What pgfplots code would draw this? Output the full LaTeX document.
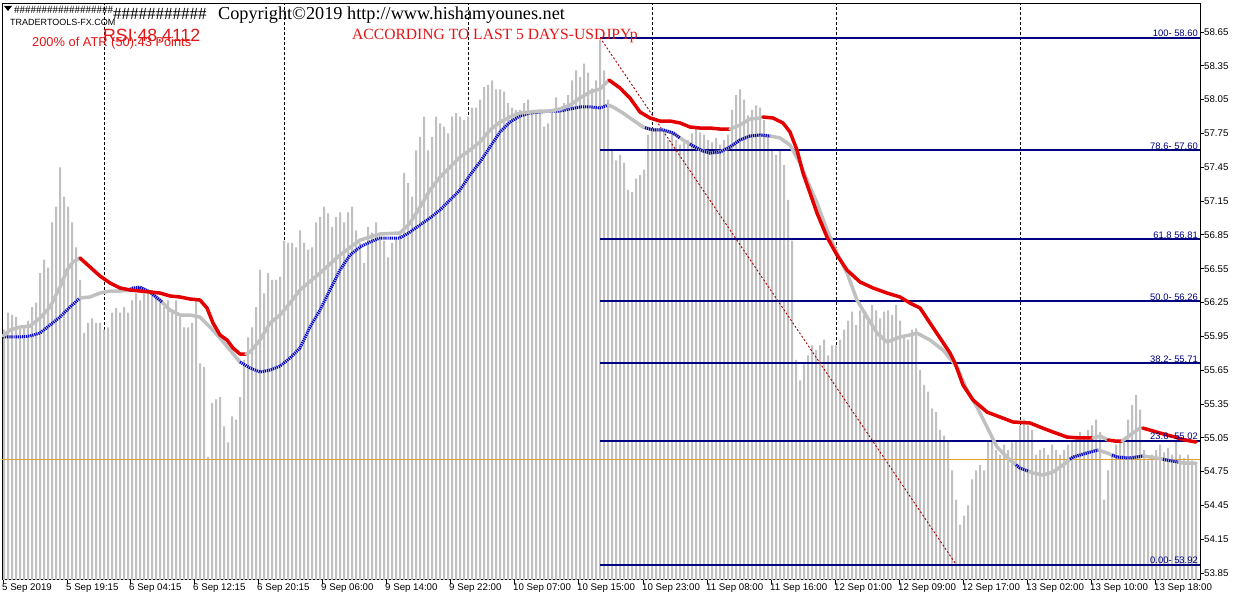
\documentclass[border=0pt]{standalone}
\usepackage{fontspec}
\setmainfont{Liberation Sans}
\newfontfamily\tnr{Liberation Serif}
\usepackage{pgfplots}
\pgfplotsset{compat=1.18}
\usepackage{pgfplotstable}
\definecolor{barg}{RGB}{192,192,192}
\definecolor{mag}{RGB}{192,192,192}
\definecolor{mar}{RGB}{228,0,0}
\definecolor{mab}{RGB}{0,0,205}
\definecolor{navyf}{RGB}{0,0,128}
\definecolor{trend}{RGB}{170,0,0}
\definecolor{curp}{RGB}{226,160,50}
\definecolor{txtred}{RGB}{228,20,20}
\pgfplotsset{
 magray/.style={no markers, draw=mag, line width=3.5bp, line join=round, line cap=round},
 mared/.style={no markers, draw=mar, line width=3.5bp, line join=round, line cap=round},
 mablue/.style={no markers, draw=mab, line width=3bp, dash pattern=on 1.2bp off 0.9bp},
 sep/.style={no markers, black, line width=1bp, dash pattern=on 3bp off 2bp},
 fib/.style={no markers, draw=navyf, line width=2bp},
}
\pgfplotstableread{
x y
4 56.01
8 56.16
12 56.14
16 56.12
20 56.03
24 56.03
28 56.09
32 56.21
36 56.25
40 56.51
44 56.63
48 56.56
52 56.96
56 57.10
60 57.45
64 57.19
68 57.10
72 56.96
76 56.74
80 56.45
84 55.98
88 56.07
92 56.11
96 56.07
100 56.07
104 56.01
108 56.03
112 56.16
116 56.20
120 56.16
124 56.21
128 56.16
132 56.27
136 56.33
140 56.27
144 56.33
148 56.33
152 56.36
156 56.30
160 56.25
164 56.21
168 56.27
172 56.16
176 56.27
180 56.12
184 56.03
188 56.03
192 56.07
196 56.27
200 55.71
204 55.68
208 54.88
212 55.36
216 55.39
220 55.41
224 55.15
228 55.01
232 55.24
236 55.21
240 55.41
244 55.74
248 55.94
252 56.03
256 56.21
260 56.54
264 56.33
268 56.51
272 56.45
276 56.45
280 56.48
284 56.80
288 56.78
292 56.78
296 56.74
300 56.89
304 56.78
308 56.72
312 56.74
316 56.96
320 57.01
324 57.10
328 57.04
332 56.92
336 57.01
340 57.05
344 56.96
348 57.05
352 57.10
356 56.89
360 56.78
364 56.60
368 56.92
372 56.87
376 56.96
380 56.83
384 56.80
388 56.65
392 56.78
396 56.83
400 56.87
404 57.40
408 57.31
412 57.19
416 57.60
420 57.72
424 57.90
428 57.60
432 57.72
436 57.90
440 57.84
444 57.81
448 57.75
452 57.90
456 57.93
460 57.90
464 57.87
468 57.90
472 57.98
476 57.98
480 58.05
484 58.16
488 58.18
492 58.22
496 58.14
500 58.14
504 58.12
508 58.02
512 57.98
516 57.96
520 57.96
524 58.02
528 58.05
532 57.96
536 57.93
540 57.96
544 57.81
548 57.84
552 57.93
556 58.07
560 57.98
564 58.02
568 58.09
572 58.22
576 58.31
580 58.25
584 58.37
588 58.29
592 58.15
596 58.22
600 58.58
604 58.31
608 58.05
612 57.60
616 57.51
620 57.56
624 57.49
628 57.25
632 57.23
636 57.35
640 57.38
644 57.43
648 57.74
652 57.78
656 57.78
660 57.80
664 57.76
668 57.69
672 57.74
676 57.69
680 57.65
684 57.67
688 57.69
692 57.75
696 57.80
700 57.76
704 57.74
708 57.69
712 57.67
716 57.71
720 57.65
724 57.69
728 57.74
732 57.96
736 58.09
740 58.14
744 58.05
748 57.91
752 57.96
756 58.00
760 57.98
764 57.87
768 57.74
772 57.60
776 57.56
780 57.60
784 57.47
788 57.16
792 56.80
796 55.74
800 55.56
804 55.70
808 55.78
812 55.87
816 55.83
820 55.87
824 55.92
828 55.78
832 55.87
836 55.87
840 55.92
844 56.01
848 56.09
852 56.17
856 56.05
860 56.18
864 56.14
868 56.09
872 56.23
876 56.18
880 56.11
884 56.17
888 56.18
892 56.14
896 56.23
900 56.09
904 55.96
908 55.92
912 56.01
916 56.02
920 55.65
924 55.52
928 55.46
932 55.31
936 55.28
940 55.12
944 55.07
948 55.03
952 54.76
956 54.50
960 54.28
964 54.36
968 54.45
972 54.68
976 54.76
980 54.81
984 54.76
988 55.03
992 55.05
996 54.94
1000 54.90
1004 54.99
1008 54.94
1012 55.01
1016 55.03
1020 55.16
1024 55.21
1028 55.16
1032 55.12
1036 54.90
1040 54.94
1044 54.96
1048 54.90
1052 54.99
1056 54.94
1060 54.90
1064 54.94
1068 54.99
1072 55.03
1076 55.07
1080 55.10
1084 55.07
1088 55.12
1092 55.16
1096 55.21
1100 55.10
1104 54.50
1108 54.76
1112 54.90
1116 54.99
1120 55.03
1124 55.05
1128 55.21
1132 55.34
1136 55.43
1140 55.30
1144 54.94
1148 54.85
1152 54.90
1156 54.94
1160 54.99
1164 54.92
1168 54.96
1172 54.90
1176 55.03
1180 54.90
1184 54.87
1188 54.90
1192 54.85
1196 54.83
}\bars
\begin{document}
\begin{tikzpicture}
\useasboundingbox (-2bp,-20bp) rectangle (1238bp,580bp);
\begin{axis}[
 at={(0,0)}, anchor=south west,
 width=1198bp, height=576bp, scale only axis,
 xmin=2, xmax=1200, ymin=53.788, ymax=58.8985,
 axis line style={black, line width=1bp},
 xtick={3,67,130,194,258,322,386,450,514,578,643,707,771,835,899,963,1027,1091,1155},
 xticklabels={5 Sep 2019,5 Sep 19:15,6 Sep 04:15,6 Sep 12:15,6 Sep 20:15,9 Sep 06:00,9 Sep 14:00,9 Sep 22:00,10 Sep 07:00,10 Sep 15:00,10 Sep 23:00,11 Sep 08:00,11 Sep 16:00,12 Sep 01:00,12 Sep 09:00,12 Sep 17:00,13 Sep 02:00,13 Sep 10:00,13 Sep 18:00},
 ytick={53.85,54.15,54.45,54.75,55.05,55.35,55.65,55.95,56.25,56.55,56.85,57.15,57.45,57.75,58.05,58.35,58.65},
 yticklabels={53.85,54.15,54.45,54.75,55.05,55.35,55.65,55.95,56.25,56.55,56.85,57.15,57.45,57.75,58.05,58.35,58.65},
 xtick pos=left, ytick pos=right, yticklabel pos=right,
 tick align=outside, major tick length=4bp,
 tick style={black, line width=0.8bp},
 ticklabel style={font=\fontsize{9.7bp}{10bp}\selectfont, inner sep=0pt},
 xticklabel style={anchor=north west, xshift=-1bp},
 yticklabel style={anchor=west},
]
% day separators
\addplot[sep] coordinates {(104,53.7) (104,59)};
\addplot[sep] coordinates {(284,53.7) (284,59)};
\addplot[sep] coordinates {(468,53.7) (468,59)};
\addplot[sep] coordinates {(652,53.7) (652,59)};
\addplot[sep] coordinates {(836,53.7) (836,59)};
\addplot[sep] coordinates {(1020,53.7) (1020,59)};
% price bars
\addplot[ybar, bar width=2bp, bar shift=0pt, fill=barg, draw=none] table {\bars};
% current price
\addplot[no markers, draw=curp, line width=1bp] coordinates {(2,54.86) (1200,54.86)};
% fibonacci levels
\addplot[fib] coordinates {(600,58.60) (1200,58.60)};
\addplot[fib] coordinates {(600,57.60) (1200,57.60)};
\addplot[fib] coordinates {(600,56.81) (1200,56.81)};
\addplot[fib] coordinates {(600,56.26) (1200,56.26)};
\addplot[fib] coordinates {(600,55.71) (1200,55.71)};
\addplot[fib] coordinates {(600,55.02) (1200,55.02)};
\addplot[fib] coordinates {(600,53.92) (1200,53.92)};
% trend line
\addplot[no markers, draw=trend, line width=0.9bp, dash pattern=on 2bp off 2bp] coordinates {(600,58.60) (955,53.94)};
% lower line
\addplot[mablue] coordinates {(3,55.944) (10,55.944) (20,55.944) (30,55.953) (40,55.979) (50,56.050) (60,56.121) (70,56.210) (80,56.290)};
\addplot[magray] coordinates {(80,56.290) (90,56.299) (100,56.334) (110,56.352) (120,56.352) (130,56.361) (140,56.379) (150,56.343) (160,56.272) (170,56.183) (180,56.139) (190,56.139) (200,56.121) (210,56.032) (220,55.935) (230,55.828) (240,55.722)};
\addplot[mablue] coordinates {(128,56.361) (133,56.379) (140,56.387) (150,56.343) (162,56.254)};
\addplot[mablue] coordinates {(240,55.722) (250,55.669) (260,55.633) (270,55.651) (280,55.686) (290,55.757) (300,55.846) (310,56.032) (320,56.183) (330,56.361) (340,56.538) (350,56.671) (360,56.742) (370,56.787) (380,56.822) (390,56.822) (400,56.822) (410,56.875) (420,56.938) (430,57.000) (440,57.071) (450,57.159) (460,57.248) (470,57.381) (480,57.497) (490,57.630) (500,57.763) (510,57.851) (520,57.905) (530,57.931) (540,57.940) (550,57.949) (560,57.949) (570,57.967) (580,57.985) (590,57.985) (600,57.976) (608,58.002)};
\addplot[magray] coordinates {(608,58.002) (613,57.985) (623,57.931) (633,57.869) (643,57.807) (653,57.781) (663,57.781) (673,57.754) (683,57.692) (693,57.639) (703,57.594) (710,57.576) (720,57.585) (730,57.630) (740,57.692) (750,57.727) (760,57.736) (770,57.727) (780,57.710) (790,57.647) (800,57.488) (807,57.337) (817,57.133) (827,56.893) (837,56.689) (847,56.512) (857,56.272) (867,56.121) (877,55.979) (887,55.899) (900,55.944) (910,55.962) (917,55.979) (930,55.917) (943,55.828) (957,55.678) (967,55.474) (977,55.323) (987,55.145) (997,54.968) (1010,54.852) (1020,54.781) (1033,54.737) (1043,54.719) (1053,54.746) (1063,54.808) (1073,54.879) (1087,54.915) (1098,54.941) (1107,54.915) (1117,54.879) (1130,54.870) (1143,54.888) (1157,54.870) (1167,54.852) (1183,54.826) (1196,54.826)};
\addplot[mablue] coordinates {(645,57.801) (653,57.781) (663,57.781) (673,57.754) (680,57.710)};
\addplot[mablue] coordinates {(690,57.656) (693,57.639) (703,57.594) (710,57.576) (720,57.585) (730,57.630) (740,57.692) (750,57.727) (760,57.736) (770,57.727)};
\addplot[mablue] coordinates {(1016,54.810) (1020,54.781) (1028,54.755)};
\addplot[mablue] coordinates {(1070,54.860) (1073,54.879) (1087,54.915) (1098,54.941)};
\addplot[mablue] coordinates {(1112,54.897) (1117,54.879) (1130,54.870) (1143,54.888)};
\addplot[mablue] coordinates {(1163,54.860) (1167,54.852) (1178,54.835)};
% upper line
\addplot[magray] coordinates {(3,55.953) (10,56.006) (20,56.032) (30,56.041) (40,56.112) (50,56.210) (60,56.387) (67,56.538) (73,56.609) (80,56.645)};
\addplot[mared] coordinates {(80,56.645) (90,56.565) (100,56.485) (110,56.423) (120,56.379) (130,56.361) (140,56.352) (150,56.343) (160,56.334) (170,56.308) (180,56.299) (190,56.281) (200,56.272) (207,56.201) (213,56.068) (220,55.962) (227,55.917) (233,55.846) (240,55.793) (246,55.793)};
\addplot[magray] coordinates {(246,55.793) (250,55.811) (260,55.917) (270,56.068) (280,56.139) (290,56.245) (300,56.361) (320,56.512) (340,56.671) (360,56.804) (380,56.858) (400,56.867) (410,56.955) (420,57.097) (430,57.248) (440,57.363) (450,57.452) (460,57.541) (470,57.603) (480,57.674) (490,57.781) (500,57.851) (510,57.896) (520,57.931) (530,57.940) (540,57.949) (550,57.949) (560,57.967) (570,58.002) (580,58.064) (590,58.118) (600,58.144) (604,58.180) (609,58.224)};
\addplot[mared] coordinates {(609,58.224) (620,58.153) (630,58.064) (640,57.940) (650,57.887) (660,57.860) (670,57.860) (680,57.843) (690,57.807) (700,57.798) (710,57.798) (720,57.789) (730,57.789)};
\addplot[magray] coordinates {(730,57.789) (740,57.825) (750,57.878) (760,57.887) (763,57.896)};
\addplot[mared] coordinates {(763,57.896) (773,57.887) (783,57.843) (790,57.763) (797,57.603) (803,57.399) (810,57.222) (817,57.044) (827,56.831) (837,56.671) (847,56.538) (860,56.432) (873,56.379) (887,56.334) (900,56.299) (910,56.245) (920,56.201) (930,56.068) (940,55.935) (950,55.802) (955,55.713) (963,55.518) (973,55.385) (987,55.278) (1000,55.234) (1013,55.190) (1030,55.181) (1040,55.145) (1053,55.101) (1067,55.056) (1080,55.048) (1093,55.048)};
\addplot[magray] coordinates {(1093,55.048) (1100,55.065) (1108,55.030)};
\addplot[mared] coordinates {(1108,55.030) (1115,55.021) (1122,55.021)};
\addplot[magray] coordinates {(1122,55.021) (1130,55.074) (1140,55.136) (1143,55.136)};
\addplot[mared] coordinates {(1143,55.136) (1160,55.092) (1175,55.056) (1185,55.030) (1196,55.012)};
% fib labels
\begin{scope}[every node/.style={anchor=south east, inner sep=1bp, text=navyf, font=\fontsize{9.4bp}{10bp}\selectfont}]
\node at (axis cs:1199,58.60) {100- 58.60};
\node at (axis cs:1199,57.60) {78.6- 57.60};
\node at (axis cs:1199,56.81) {61.8 56.81};
\node at (axis cs:1199,56.26) {50.0- 56.26};
\node at (axis cs:1199,55.71) {38.2- 55.71};
\node at (axis cs:1199,55.02) {23.6- 55.02};
\node at (axis cs:1199,53.92) {0.00- 53.92};
\end{scope}
\node[anchor=west, fill=black, text=white, inner sep=1.5bp, minimum height=14bp, font=\fontsize{9.7bp}{10bp}\selectfont] at (axis cs:1200.5,54.86) {54.86};
\end{axis}
% header texts (pixel (X,Y) -> (X-2, 580-Y))
\fill[black] (2bp,574bp) -- (10bp,574bp) -- (6bp,569bp) -- cycle;
\node[anchor=base west, inner sep=0pt, font=\tnr\fontsize{11bp}{12bp}\selectfont] at (12bp,566bp) {\#\#\#\#\#\#\#\#\#\#\#\#\#\#\#\#\#\#};
\node[anchor=base west, inner sep=0pt, font=\tnr\fontsize{17bp}{18bp}\selectfont] at (111bp,560bp) {\#\#\#\#\#\#\#\#\#\#\#};
\node[anchor=base west, inner sep=0pt, font=\tnr\fontsize{18.25bp}{20bp}\selectfont] at (216bp,560bp) {Copyright©2019 http://www.hishamyounes.net};
\node[anchor=base west, inner sep=0pt, font=\fontsize{9bp}{10bp}\selectfont] at (8bp,554bp) {TRADERTOOLS-FX.COM};
\node[anchor=base west, inner sep=0pt, text=txtred, font=\fontsize{17.7bp}{19bp}\selectfont] at (101bp,538bp) {RSI:48.4112};
\node[anchor=base west, inner sep=0pt, text=txtred, font=\fontsize{12.85bp}{14bp}\selectfont] at (30bp,533bp) {200\% of ATR (50):43 Points};
\node[anchor=base west, inner sep=0pt, text=txtred, font=\tnr\fontsize{15.6bp}{17bp}\selectfont] at (350bp,540bp) {ACCORDING TO LAST 5 DAYS-USDJPYp};
\end{tikzpicture}
\end{document}
